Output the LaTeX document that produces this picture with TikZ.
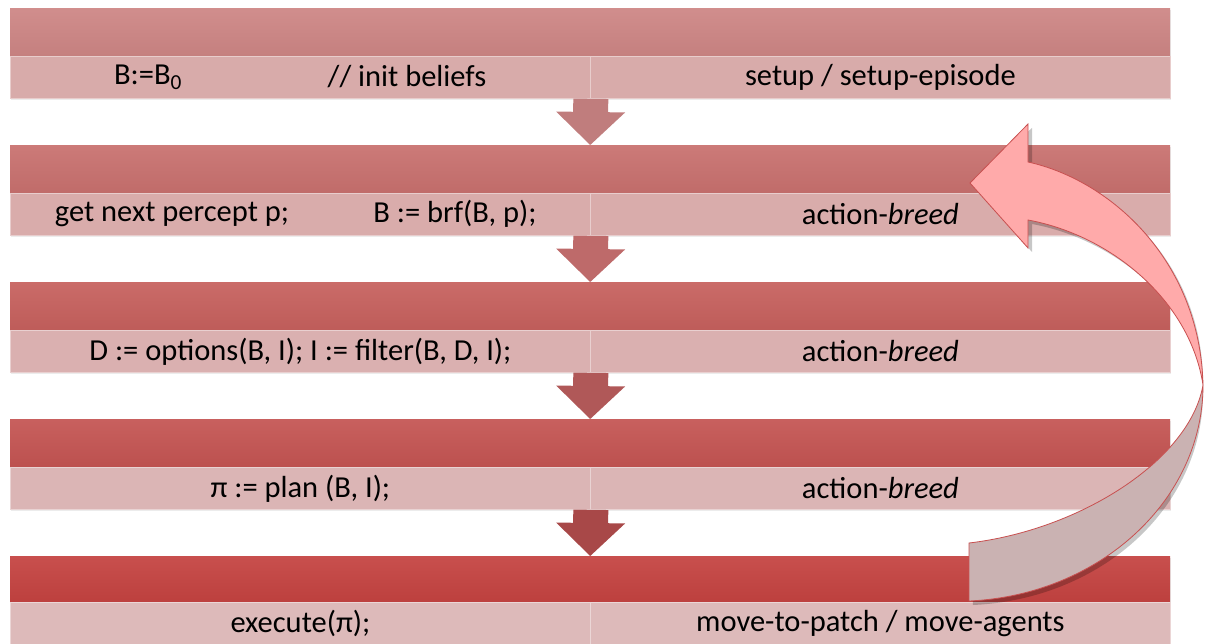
\documentclass[tikz,border=0pt]{standalone}
\usepackage{fontspec}
\setmainfont{Carlito}
\usepackage{xcolor}
\usetikzlibrary{arrows.meta,positioning,shadows}

\definecolor{hdrA}{RGB}{205,133,132}
\definecolor{hdrB}{RGB}{200,112,110}
\definecolor{hdrC}{RGB}{198,96,93}
\definecolor{hdrD}{RGB}{196,84,82}
\definecolor{hdrE}{RGB}{196,66,64}
\definecolor{rowA}{RGB}{216,171,170}
\definecolor{rowB}{RGB}{217,172,171}
\definecolor{rowC}{RGB}{218,176,176}
\definecolor{rowD}{RGB}{219,181,181}
\definecolor{rowE}{RGB}{221,186,186}
\definecolor{dnA}{RGB}{192,125,125}
\definecolor{dnB}{RGB}{190,106,106}
\definecolor{dnC}{RGB}{176,88,88}
\definecolor{dnD}{RGB}{168,72,72}
\definecolor{loopfront}{RGB}{255,170,170}
\definecolor{loopback}{RGB}{202,178,178}
\definecolor{loopline}{RGB}{200,80,80}

\tikzset{
  hdr/.style={rectangle,inner sep=0pt,minimum width=1160pt,minimum height=48pt,anchor=north west,
    top color=#1!93!white,middle color=#1,bottom color=#1!96!black,
    drop shadow={opacity=0.18,shadow xshift=1pt,shadow yshift=-2pt}},
  cell/.style={rectangle,inner sep=0pt,minimum width=580pt,minimum height=42pt,anchor=north west,
    fill=#1,draw=white!40!#1,line width=0.8pt,font=\fontsize{30.5}{34}\selectfont,
    drop shadow={opacity=0.15,shadow xshift=1pt,shadow yshift=-2pt}},
  txt/.style={inner sep=0pt,font=\fontsize{30.5}{34}\selectfont},
  dnarrow/.style={draw=#1,line width=35pt,
    -{Triangle[length=33pt,width=69pt,line width=0pt]}}
}

\begin{document}
\begin{tikzpicture}[x=1pt,y=-1pt]
    \useasboundingbox (0,0) rectangle (1206,644);

    % Band 1: setup
    \node[hdr=hdrA] (h1) at (10,8) {};
    \node[cell=rowA] (l1) at (10,56) {};
    \node[cell=rowA] (r1) at (590,56) {setup / setup-episode};
    \node[txt] (b0) at (148,77) {B:=B\textsubscript{0}};
    \node[txt] (ib) at (407,77) {// init beliefs};

    % Band 2: percept
    \node[hdr=hdrB] (h2) at (10,145) {};
    \node[cell=rowB] (l2) at (10,193) {};
    \node[cell=rowB] (r2) at (590,193) {action-\textit{breed}};
    \node[txt] (gp) at (172,214) {get next percept p;};
    \node[txt] (brf) at (455,214) {B := brf(B, p);};

    % Band 3: deliberate
    \node[hdr=hdrC] (h3) at (10,282) {};
    \node[cell=rowC] (l3) at (10,330) {D := options(B, I); I := filter(B, D, I);};
    \node[cell=rowC] (r3) at (590,330) {action-\textit{breed}};

    % Band 4: plan
    \node[hdr=hdrD] (h4) at (10,419) {};
    \node[cell=rowD] (l4) at (10,467) {π := plan (B, I);};
    \node[cell=rowD] (r4) at (590,467) {action-\textit{breed}};

    % Band 5: execute
    \node[hdr=hdrE] (h5) at (10,556) {};
    \node[cell=rowE] (l5) at (10,602) {execute(π);};
    \node[cell=rowE] (r5) at (590,602) {move-to-patch / move-agents};

    % Down arrows
    \draw[dnarrow=dnA] (l1.south east) -- (h2.north);
    \draw[dnarrow=dnB] (l2.south east) -- (h3.north);
    \draw[dnarrow=dnC] (l3.south east) -- (h4.north);
    \draw[dnarrow=dnD] (l4.south east) -- (h5.north);

    % Loop arrow (back to percept)
    \coordinate (tail) at (969,543);
    \coordinate (turn) at (1203,385);
    \coordinate (tip) at (970,183);
    \fill[black,opacity=0.22,xshift=4pt,yshift=-4pt]
        (tail) -- (969,601) .. controls (1100,595) and (1203,500) .. (turn)
        .. controls (1200,260) and (1110,180) .. (1028,162) -- (1028,124) -- (tip)
        -- (1028,248) -- (1028,220) .. controls (1110,235) and (1190,300) .. (turn)
        .. controls (1190,460) and (1080,530) .. (tail) -- cycle;
    \filldraw[fill=loopback,draw=loopline,line width=0.8pt]
        (tail) -- (969,601) .. controls (1100,595) and (1203,500) .. (turn)
        .. controls (1190,460) and (1080,530) .. (tail) -- cycle;
    \filldraw[fill=loopfront,draw=loopline,line width=0.8pt]
        (turn) .. controls (1200,260) and (1110,180) .. (1028,162) -- (1028,124)
        -- (tip) -- (1028,248) -- (1028,220) .. controls (1110,235) and (1190,300) .. (turn) -- cycle;
\end{tikzpicture}
\end{document}
